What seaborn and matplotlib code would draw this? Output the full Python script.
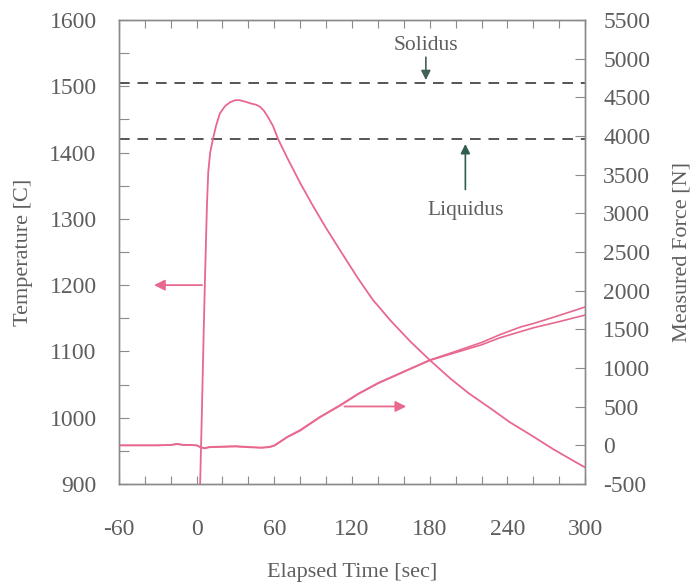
import matplotlib
matplotlib.use("Agg")
import matplotlib.pyplot as plt
from matplotlib.ticker import MultipleLocator
import seaborn as sns
import pandas as pd

# Thermocouple temperature during the heating / forming cycle
time_temp = [2.5, 4, 5.5, 6.5, 8, 9, 10.5, 12.6, 15, 18, 22, 26, 30, 33, 37, 42,
             46, 49, 52, 55, 59, 63, 70, 80, 90, 100, 110, 124, 136, 150, 165,
             180, 196, 210, 227, 242, 258, 275, 290, 300]
temperature = [880, 1000, 1130, 1210, 1320, 1370, 1400, 1420, 1440, 1459, 1470,
               1476, 1479, 1479, 1477, 1474, 1472, 1469, 1463, 1454, 1440, 1420,
               1392, 1354, 1319, 1286, 1255, 1212, 1178, 1146, 1115, 1087, 1059,
               1037, 1014, 993, 974, 953, 936, 925]

# Measured force, two load cells
time_force = [-60, -50, -40, -30, -20, -15, -10, -5, 0, 3, 6, 10, 20, 30, 40, 50,
              56, 60, 64, 70, 80, 95, 111, 125, 140, 160, 180, 200, 220, 234, 250,
              260, 280, 300]
force_a = [0, 0, 0, 0, 5, 20, 5, 5, 0, -25, -35, -20, -15, -10, -20, -30, -20, 0,
           43, 110, 198, 366, 522, 670, 806, 955, 1103, 1215, 1330, 1430, 1530,
           1575, 1680, 1789]
force_b = [0, 0, 0, 0, 5, 15, 5, 5, 0, -20, -40, -25, -20, -15, -25, -30, -25, -5,
           38, 105, 190, 360, 515, 665, 800, 950, 1098, 1200, 1300, 1390, 1470,
           1520, 1600, 1685]

phase_labels = ["Solidus", "Liquidus"]
phase_temps = [1505, 1420]

x_ticks = [-60, 0, 60, 120, 180, 240, 300]

sns.set_theme(style="white")
plt.rcParams["font.family"] = ["Liberation Serif", "DejaVu Serif"]
plt.rcParams["axes.unicode_minus"] = False

PINK = "#e8688e"
TEXT = "#5e5e5e"
SPINE = "#8a8a8a"

df_t = pd.DataFrame({"time": time_temp, "temp": temperature})
df_f = pd.DataFrame({
    "time": time_force * 2,
    "force": force_a + force_b,
    "cell": ["A"] * len(force_a) + ["B"] * len(force_b),
})

fig = plt.figure(figsize=(6.95, 5.86), dpi=100)
ax = fig.add_axes([0.171, 0.174, 0.671, 0.792])
ax2 = ax.twinx()

sns.lineplot(data=df_t, x="time", y="temp", ax=ax, color=PINK, lw=1.3,
             sort=False, estimator=None)
sns.lineplot(data=df_f, x="time", y="force", units="cell", ax=ax2, color=PINK,
             lw=1.2, sort=False, estimator=None)

ax.set_xlim(-60, 300)
ax.set_ylim(900, 1600)
ax2.set_ylim(-500, 5500)

# phase boundaries
for t in phase_temps:
    ax.axhline(t, color="#555555", lw=1.4, ls=(0, (5.5, 4)), zorder=1)

ax.annotate("", xy=(177, phase_temps[0]), xytext=(177, 1548),
            arrowprops=dict(arrowstyle="-|>", color="#44605a", lw=1.2,
                            mutation_scale=14))
ax.text(177, 1562, phase_labels[0], ha="center", va="center", fontsize=15.5,
        color=TEXT)
ax.annotate("", xy=(207.5, phase_temps[1] - 3), xytext=(207.5, 1340),
            arrowprops=dict(arrowstyle="-|>", color="#2f5e4e", lw=1.2,
                            mutation_scale=14))
ax.text(207.5, 1312, phase_labels[1], ha="center", va="center", fontsize=15.5,
        color=TEXT)

# arrows pointing each curve to its axis
ax.annotate("", xy=(-35, 1200), xytext=(6.4, 1200),
            arrowprops=dict(arrowstyle="-|>", color=PINK, lw=1.3,
                            mutation_scale=16))
ax.annotate("", xy=(164, 1017), xytext=(112, 1017),
            arrowprops=dict(arrowstyle="-|>", color=PINK, lw=1.3,
                            mutation_scale=16))

ax.set_xticks(x_ticks)
ax.xaxis.set_minor_locator(MultipleLocator(20))
ax.yaxis.set_major_locator(MultipleLocator(100))
ax.yaxis.set_minor_locator(MultipleLocator(50))
ax2.yaxis.set_major_locator(MultipleLocator(500))

ax.tick_params(axis="x", which="both", direction="in", top=True, bottom=True,
               colors=SPINE, labelcolor=TEXT, labelsize=17, pad=25,
               length=6, width=0.8)
ax.tick_params(axis="y", which="both", direction="in", left=True, right=False,
               colors=SPINE, labelcolor=TEXT, labelsize=17, pad=16,
               length=7, width=0.8)
ax2.tick_params(axis="y", which="both", direction="in", right=True, left=False,
                colors=SPINE, labelcolor=TEXT, labelsize=17, pad=13,
                length=7, width=0.8)

for a in (ax, ax2):
    for s in a.spines.values():
        s.set_color(SPINE)
        s.set_linewidth(1.0)

ax.set_xlabel("Elapsed Time [sec]", fontsize=16, color=TEXT, labelpad=17)
ax.set_ylabel("Temperature [C]", fontsize=16, color=TEXT, labelpad=12)
ax2.set_ylabel("Measured Force [N]", fontsize=16, color=TEXT, labelpad=16)

fig.savefig("out.png", dpi=100, facecolor="white")
